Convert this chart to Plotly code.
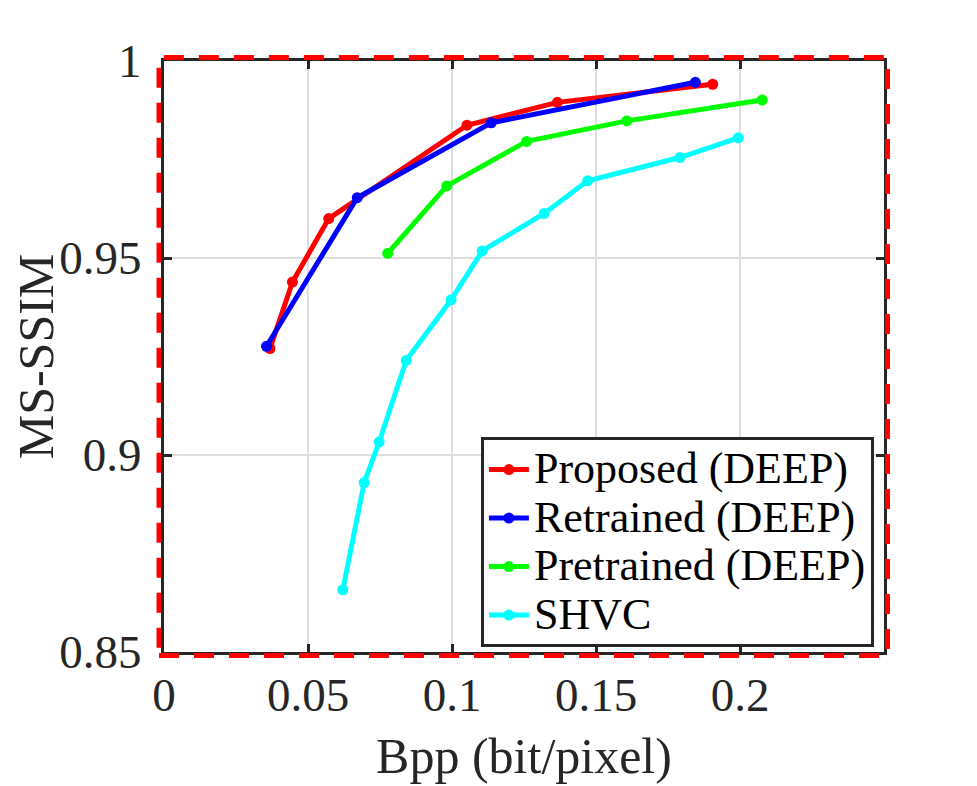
import plotly.graph_objects as go

# Rate / quality points
proposed_bpp = [0.0368, 0.0446, 0.0572, 0.1052, 0.1366, 0.1905]
proposed_msssim = [0.9270, 0.9439, 0.9600, 0.9837, 0.9895, 0.9941]

retrained_bpp = [0.0356, 0.0671, 0.1136, 0.1845]
retrained_msssim = [0.9276, 0.9653, 0.9843, 0.9946]

pretrained_bpp = [0.0777, 0.0982, 0.1259, 0.1607, 0.2077]
pretrained_msssim = [0.9512, 0.9683, 0.9796, 0.9848, 0.9901]

shvc_bpp = [0.0621, 0.0695, 0.0747, 0.0841, 0.0997, 0.1105, 0.1320, 0.1471, 0.1791, 0.1994]
shvc_msssim = [0.8658, 0.8930, 0.9033, 0.9240, 0.9394, 0.9518, 0.9613, 0.9696, 0.9755, 0.9805]

x_ticks = [0, 0.05, 0.1, 0.15, 0.2]
x_labels = ["0", "0.05", "0.1", "0.15", "0.2"]
y_ticks = [0.85, 0.9, 0.95, 1.0]
y_labels = ["0.85", "0.9", "0.95", "1"]

series = [
    ("Proposed (DEEP)", proposed_bpp, proposed_msssim, "#ff0000"),
    ("Retrained (DEEP)", retrained_bpp, retrained_msssim, "#0000ff"),
    ("Pretrained (DEEP)", pretrained_bpp, pretrained_msssim, "#00ff00"),
    ("SHVC", shvc_bpp, shvc_msssim, "#00ffff"),
]

FONT = "Liberation Serif"
AXIS = "#262626"

fig = go.Figure()
for name, xs, ys, col in series:
    fig.add_trace(go.Scatter(
        x=xs, y=ys, mode="lines+markers",
        # bigger text than the legend font, so rows stay tight like the original
        name="<span style='font-size:44px'>%s</span>" % name,
        line=dict(color=col, width=5),
        marker=dict(color=col, size=11),
    ))

axis_common = dict(
    showline=True, linecolor=AXIS, linewidth=3, mirror="ticks",
    ticks="inside", ticklen=8, tickwidth=3, tickcolor=AXIS,
    showgrid=True, gridcolor="#dedede", gridwidth=2,
    zeroline=False,
    tickfont=dict(family=FONT, size=47, color=AXIS),
)

fig.update_xaxes(
    range=[0, 0.25], tickvals=x_ticks, ticktext=x_labels,
    title=dict(text="Bpp (bit/pixel)", font=dict(family=FONT, size=50, color=AXIS), standoff=18),
    ticklabelstandoff=0,
    **axis_common,
)
fig.update_yaxes(
    range=[0.85, 1.0], tickvals=y_ticks, ticktext=y_labels,
    title=dict(text="MS-SSIM", font=dict(family=FONT, size=50, color=AXIS), standoff=4),
    ticklabelstandoff=10,
    **axis_common,
)

# red dashed highlight frame around the axes
fig.add_shape(
    type="rect", xref="paper", yref="paper",
    x0=-0.0069, x1=1.0048, y0=-0.0059, y1=1.0059,
    line=dict(color="#ff0000", width=5, dash="20px,15px"),
    layer="above",
)

# page body has an 8px margin, so the figure is 8px smaller than the window
fig.update_layout(
    width=969, height=778,
    margin=dict(l=152, r=93, t=53, b=123),
    paper_bgcolor="white", plot_bgcolor="white",
    font=dict(family=FONT, color="black"),
    showlegend=True,
    legend=dict(
        x=0.986, y=0.008, xanchor="right", yanchor="bottom",
        bgcolor="white", bordercolor=AXIS, borderwidth=3,
        font=dict(family=FONT, size=35, color="black"),
        tracegroupgap=0, itemwidth=40,
    ),
)

fig.write_html("out.html")
